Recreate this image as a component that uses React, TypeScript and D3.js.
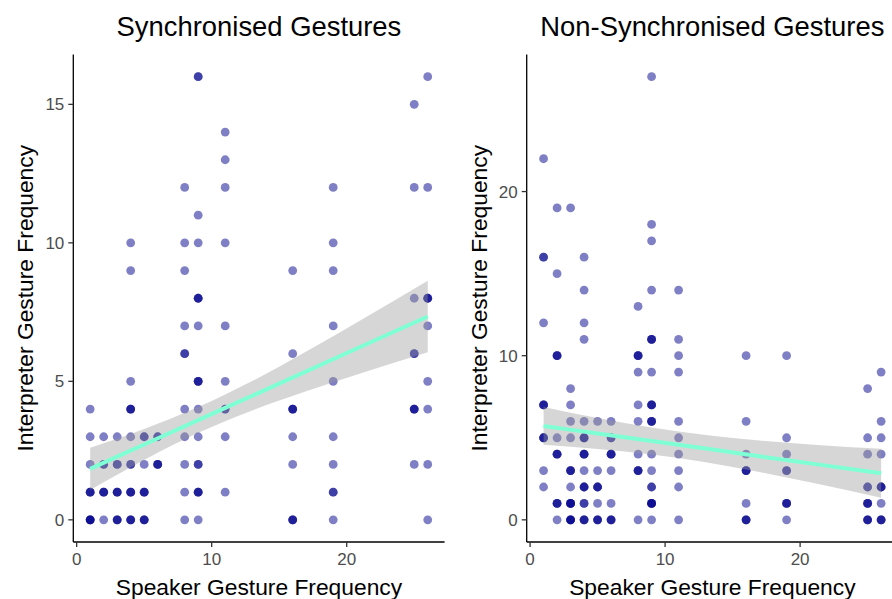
import React from "react";
import * as d3 from "d3";

const W = 892;
const H = 599;

// speaker gesture frequency (x), interpreter gesture frequency (y), n = overlapping observations
const syncX = [1,1,1,1,1, 2,2,2,2, 3,3,3,3, 4,4,4,4,4,4,4,4, 5,5,5,5, 6,6,
  8,8,8,8,8,8,8,8,8,8, 9,9,9,9,9,9,9,9,9,9,9, 11,11,11,11,11,11,11,11,11,
  16,16,16,16,16,16, 19,19,19,19,19,19,19,19,19, 25,25,25,25,25,25, 26,26,26,26,26,26,26,26];
const syncY = [0,1,2,3,4, 0,1,2,3, 0,1,2,3, 0,1,2,3,4,5,9,10, 0,1,2,3, 2,3,
  0,1,2,3,4,6,7,9,10,12, 0,1,2,3,4,5,7,8,10,11,16, 1,3,4,5,7,10,12,13,14,
  0,2,3,4,6,9, 0,1,2,3,5,7,9,10,12, 2,4,6,8,12,15, 0,2,4,5,7,8,12,16];
const syncN = [4,3,1,1,1, 1,3,2,1, 3,3,2,1, 3,3,2,1,3,1,1,1, 3,3,1,2, 3,2,
  1,1,1,1,1,2,1,1,1,1, 1,3,2,1,1,3,1,3,1,1,2, 1,1,2,1,1,1,1,1,1,
  3,1,1,3,1,1, 1,2,1,1,1,1,1,1,1, 1,3,2,1,1,1, 1,1,1,1,1,3,1,1];

const nonX = [1,1,1,1,1,1,1, 2,2,2,2,2,2,2, 3,3,3,3,3,3,3,3,3, 4,4,4,4,4,4,4,4,4,4,4,
  5,5,5,5,5, 6,6,6,6,6,6, 8,8,8,8,8,8,8,8, 9,9,9,9,9,9,9,9,9,9,9,9,9,
  11,11,11,11,11,11,11,11,11,11, 16,16,16,16,16,16, 19,19,19,19,19,19,
  25,25,25,25,25,25, 26,26,26,26,26,26,26];
const nonY = [2,3,5,7,12,16,22, 0,1,4,5,10,15,19, 0,1,2,3,5,6,7,8,19, 0,1,2,3,4,5,6,11,12,14,16,
  0,1,2,3,6, 0,1,3,4,5,6, 0,3,4,6,7,9,10,13, 0,1,2,3,4,6,7,9,11,14,17,18,27,
  0,2,3,4,5,6,9,10,11,14, 0,1,3,4,6,10, 0,1,3,4,5,10,
  0,1,2,4,5,8, 0,1,2,4,5,6,9];
const nonN = [1,1,3,3,1,2,1, 1,3,3,1,3,1,1, 4,4,1,3,1,1,1,1,1, 3,2,3,1,3,3,1,1,1,1,1,
  3,1,3,1,1, 3,1,1,3,2,1, 1,3,1,1,1,1,3,1, 1,4,2,1,1,3,3,1,3,1,1,1,1,
  1,1,1,1,1,1,1,1,1,1, 3,1,3,1,1,1, 1,3,2,1,1,1,
  3,3,2,1,1,1, 3,1,3,1,1,1,1];

// linear fit with 95% band
const fitX = [1, 5, 9, 13, 17, 21, 26];
const syncFit = [1.84, 2.72, 3.6, 4.48, 5.36, 6.24, 7.34];
const syncLo = [1.08, 2.16, 3.14, 3.95, 4.64, 5.28, 6.05];
const syncHi = [2.6, 3.28, 4.07, 5.01, 6.08, 7.2, 8.63];
const nonFit = [5.72, 5.26, 4.8, 4.34, 3.87, 3.41, 2.84];
const nonLo = [4.57, 4.32, 3.98, 3.51, 2.91, 2.24, 1.35];
const nonHi = [6.87, 6.2, 5.62, 5.17, 4.83, 4.58, 4.33];

const xTicks = [0, 10, 20];
const syncYTicks = [0, 5, 10, 15];
const nonYTicks = [0, 10, 20];

const FONT = "'Liberation Sans', Arial, sans-serif";
const TICK_COLOR = "#4D4D4D";

type PanelProps = {
  title: string;
  left: number;
  xs: number[];
  ys: number[];
  ns: number[];
  fit: number[];
  lo: number[];
  hi: number[];
  yDomain: [number, number];
  yTicks: number[];
};

function Panel(props: PanelProps) {
  const { title, left, xs, ys, ns, fit, lo, hi, yDomain, yTicks } = props;
  const top = 54.5;
  const bottom = 542;
  const x = d3.scaleLinear().domain([-0.25, 27.25]).range([left, left + 371.3]);
  const y = d3.scaleLinear().domain(yDomain).range([bottom, top]);

  const band = d3
    .area<number>()
    .x((d) => x(d))
    .y0((_, i) => y(lo[i]))
    .y1((_, i) => y(hi[i]))
    .curve(d3.curveMonotoneX);
  const line = d3
    .line<number>()
    .x((d) => x(d))
    .y((_, i) => y(fit[i]))
    .curve(d3.curveMonotoneX);

  const dots: JSX.Element[] = [];
  xs.forEach((xv, i) => {
    for (let k = 0; k < ns[i]; k++) {
      dots.push(
        <circle
          key={i + "-" + k}
          cx={x(xv)}
          cy={y(ys[i])}
          r={4.4}
          fill="#00008B"
          fillOpacity={0.5}
        />
      );
    }
  });

  const cx = (x.range()[0] + x.range()[1]) / 2;
  const cy = (top + bottom) / 2;

  return (
    <g>
      <text x={cx} y={36} textAnchor="middle" fontSize={27.4} fontFamily={FONT} fill="#000">
        {title}
      </text>
      {dots}
      <path d={band(fitX) || ""} fill="#999999" fillOpacity={0.4} />
      <path d={line(fitX) || ""} fill="none" stroke="#7FFFD4" strokeWidth={4} />
      {/* y axis */}
      <line x1={left} x2={left} y1={top} y2={bottom} stroke="#000" strokeWidth={1.3} />
      {yTicks.map((t) => (
        <g key={"y" + t}>
          <line x1={left - 5} x2={left} y1={y(t)} y2={y(t)} stroke="#333" strokeWidth={1.3} />
          <text
            x={left - 9}
            y={y(t)}
            dy="0.36em"
            textAnchor="end"
            fontSize={17}
            fontFamily={FONT}
            fill={TICK_COLOR}
          >
            {t}
          </text>
        </g>
      ))}
      {/* x axis */}
      <line x1={left} x2={x.range()[1]} y1={bottom} y2={bottom} stroke="#000" strokeWidth={1.3} />
      {xTicks.map((t) => (
        <g key={"x" + t}>
          <line x1={x(t)} x2={x(t)} y1={bottom} y2={bottom + 5} stroke="#333" strokeWidth={1.3} />
          <text
            x={x(t)}
            y={565}
            textAnchor="middle"
            fontSize={17}
            fontFamily={FONT}
            fill={TICK_COLOR}
          >
            {t}
          </text>
        </g>
      ))}
      <text x={cx} y={595} textAnchor="middle" fontSize={22.8} fontFamily={FONT} fill="#000">
        Speaker Gesture Frequency
      </text>
      <text
        transform={`translate(${left - 40},${cy}) rotate(-90)`}
        textAnchor="middle"
        fontSize={22.8}
        fontFamily={FONT}
        fill="#000"
      >
        Interpreter Gesture Frequency
      </text>
    </g>
  );
}

export default function App() {
  return (
    <svg
      width={W}
      height={H}
      style={{ position: "absolute", left: 0, top: 0, background: "#fff" }}
    >
      <rect width={W} height={H} fill="#fff" />
      <Panel
        title="Synchronised Gestures"
        left={73.3}
        xs={syncX}
        ys={syncY}
        ns={syncN}
        fit={syncFit}
        lo={syncLo}
        hi={syncHi}
        yDomain={[-0.8, 16.8]}
        yTicks={syncYTicks}
      />
      <Panel
        title="Non-Synchronised Gestures"
        left={526.7}
        xs={nonX}
        ys={nonY}
        ns={nonN}
        fit={nonFit}
        lo={nonLo}
        hi={nonHi}
        yDomain={[-1.35, 28.35]}
        yTicks={nonYTicks}
      />
    </svg>
  );
}
